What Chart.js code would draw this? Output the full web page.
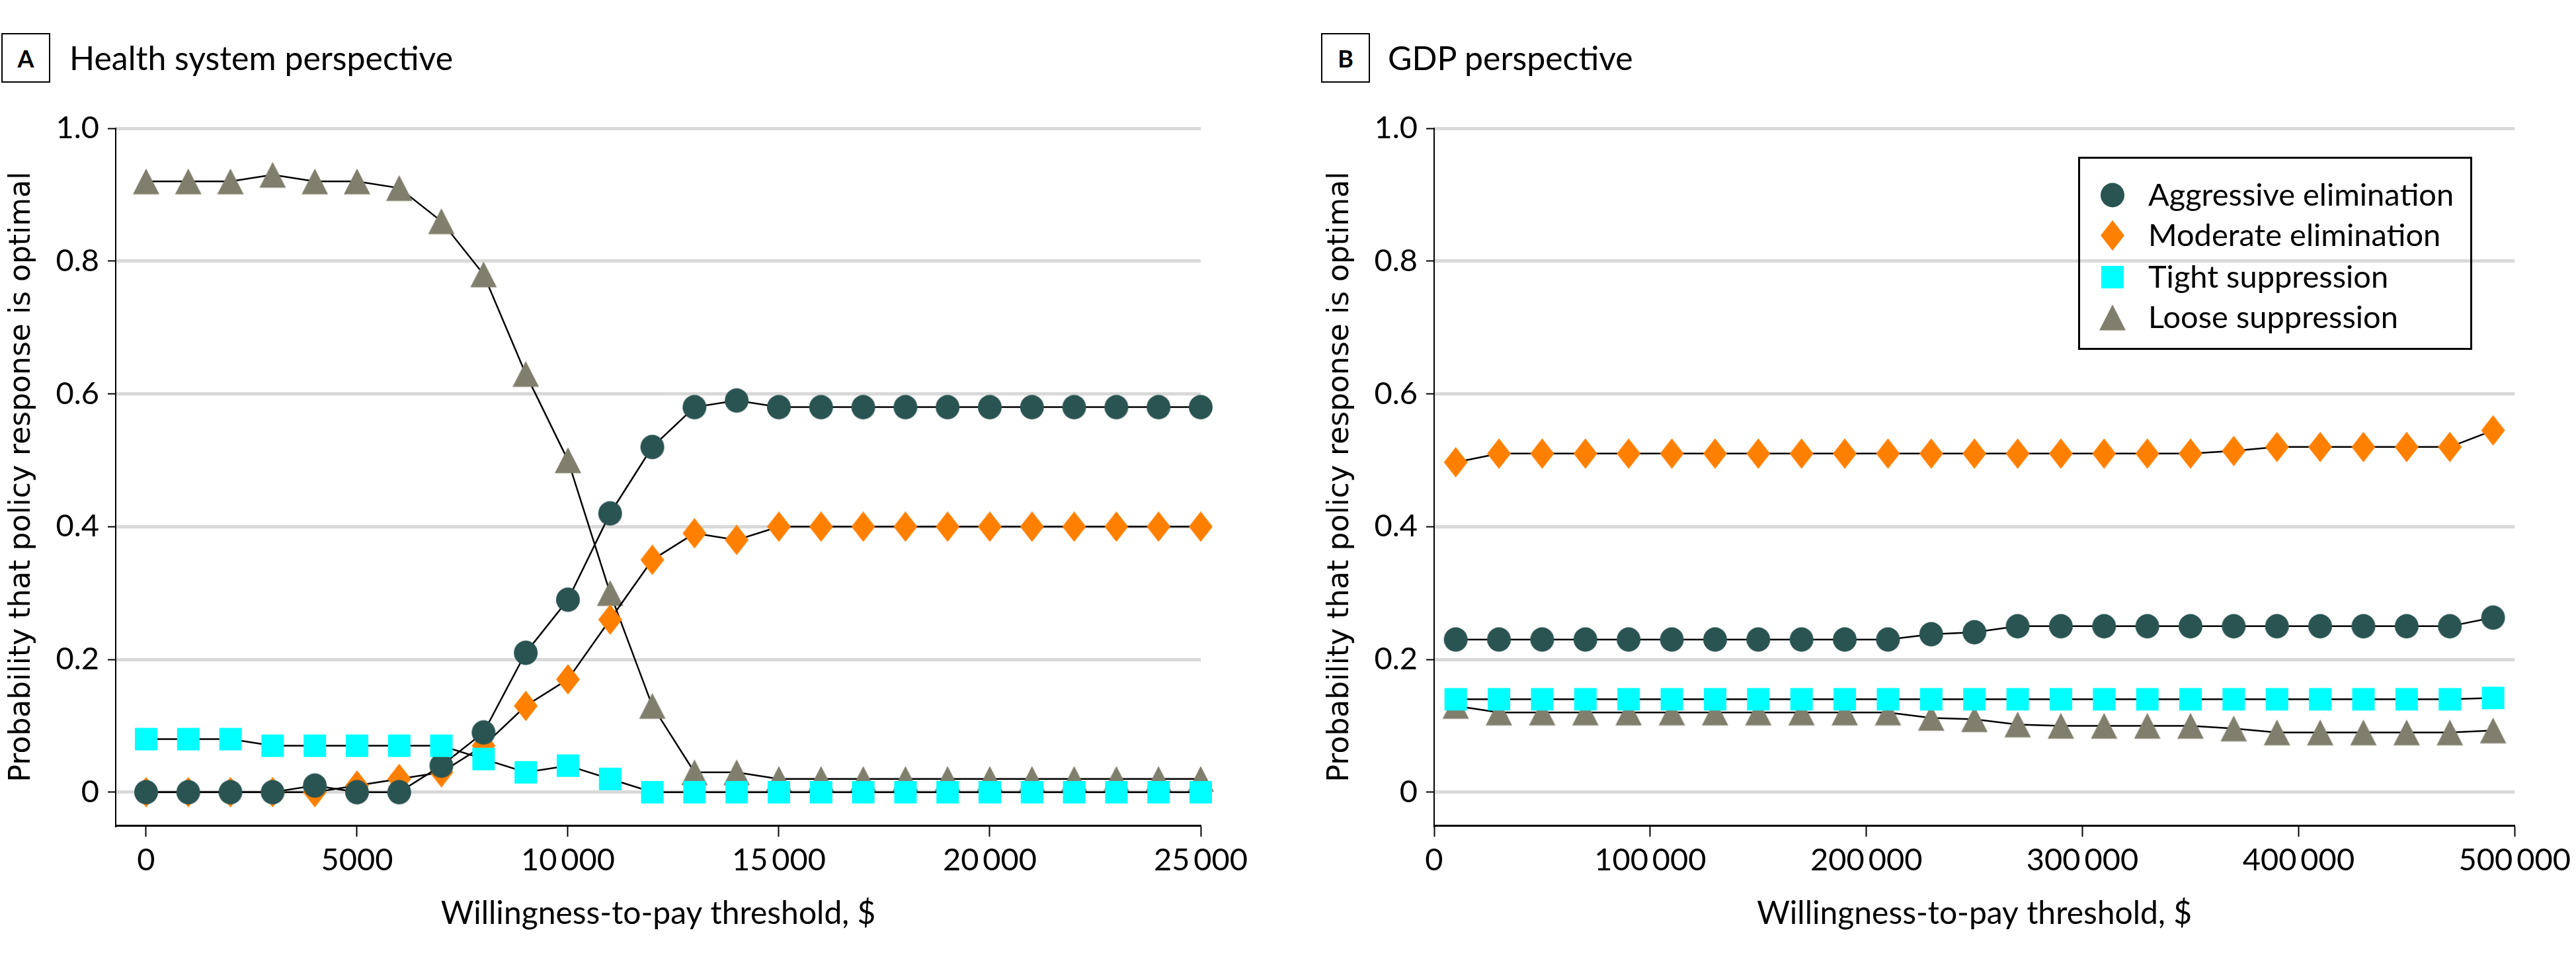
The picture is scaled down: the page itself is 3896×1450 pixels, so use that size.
<!DOCTYPE html>
<html>
<head>
<meta charset="utf-8">
<script src="https://cdn.jsdelivr.net/npm/chart.js@4.4.1/dist/chart.umd.min.js"></script>
<style>
  body { margin: 0; background: #fff; width: 3896px; height: 1450px; position: relative; overflow: hidden; font-family: Lato, sans-serif; }
  canvas.chart { position: absolute; top: 0; }
  .tag { position: absolute; top: 50px; width: 70px; height: 71px; border: 2px solid #000; display: flex; align-items: center; justify-content: center; font: bold 36px Lato, sans-serif; }
  .title { position: absolute; top: 62px; font-size: 50px; line-height: 50px; white-space: nowrap; }
  .legend { position: absolute; left: 3143px; top: 237px; width: 590px; height: 286px; border: 3px solid #000; }
  .leg-text { position: absolute; font-size: 47px; line-height: 47px; white-space: nowrap; }
  .leg-mark { position: absolute; }
</style>
</head>
<body>
<div class="tag" style="left:2px">A</div>
<div class="title" style="left:105px">Health system perspective</div>
<div class="tag" style="left:1998px">B</div>
<div class="title" style="left:2099px">GDP perspective</div>

<canvas id="chartA" class="chart" width="1948" height="1450" style="left:0px"></canvas>
<canvas id="chartB" class="chart" width="1902" height="1450" style="left:1994px"></canvas>
<div class="legend"></div>

<script>
// panel A: health system perspective
const wtpA = [0, 1000, 2000, 3000, 4000, 5000, 6000, 7000, 8000, 9000, 10000, 11000, 12000,
              13000, 14000, 15000, 16000, 17000, 18000, 19000, 20000, 21000, 22000, 23000, 24000, 25000];
const aggressiveA = [0, 0, 0, 0, 0.01, 0, 0, 0.04, 0.09, 0.21, 0.29, 0.42, 0.52,
                     0.58, 0.59, 0.58, 0.58, 0.58, 0.58, 0.58, 0.58, 0.58, 0.58, 0.58, 0.58, 0.58];
const moderateA = [0, 0, 0, 0, 0, 0.01, 0.02, 0.03, 0.07, 0.13, 0.17, 0.26, 0.35,
                   0.39, 0.38, 0.40, 0.40, 0.40, 0.40, 0.40, 0.40, 0.40, 0.40, 0.40, 0.40, 0.40];
const tightA = [0.08, 0.08, 0.08, 0.07, 0.07, 0.07, 0.07, 0.07, 0.05, 0.03, 0.04, 0.02, 0,
                0, 0, 0, 0, 0, 0, 0, 0, 0, 0, 0, 0, 0];
const looseA = [0.92, 0.92, 0.92, 0.93, 0.92, 0.92, 0.91, 0.86, 0.78, 0.63, 0.50, 0.30, 0.13,
                0.03, 0.03, 0.02, 0.02, 0.02, 0.02, 0.02, 0.02, 0.02, 0.02, 0.02, 0.02, 0.02];
const xTicksA = [0, 5000, 10000, 15000, 20000, 25000];

// panel B: GDP perspective
const wtpB = [10000, 30000, 50000, 70000, 90000, 110000, 130000, 150000, 170000, 190000, 210000, 230000, 250000,
              270000, 290000, 310000, 330000, 350000, 370000, 390000, 410000, 430000, 450000, 470000, 490000];
const aggressiveB = [0.23, 0.23, 0.23, 0.23, 0.23, 0.23, 0.23, 0.23, 0.23, 0.23, 0.23, 0.238, 0.241,
                     0.25, 0.25, 0.25, 0.25, 0.25, 0.25, 0.25, 0.25, 0.25, 0.25, 0.25, 0.263];
const moderateB = [0.497, 0.51, 0.51, 0.51, 0.51, 0.51, 0.51, 0.51, 0.51, 0.51, 0.51, 0.51, 0.51,
                   0.51, 0.51, 0.51, 0.51, 0.51, 0.514, 0.52, 0.52, 0.52, 0.52, 0.52, 0.545];
const tightB = [0.14, 0.14, 0.14, 0.14, 0.14, 0.14, 0.14, 0.14, 0.14, 0.14, 0.14, 0.14, 0.14,
                0.14, 0.14, 0.14, 0.14, 0.14, 0.14, 0.14, 0.14, 0.14, 0.14, 0.14, 0.142];
const looseB = [0.13, 0.12, 0.12, 0.12, 0.12, 0.12, 0.12, 0.12, 0.12, 0.12, 0.12, 0.112, 0.11,
                0.102, 0.10, 0.10, 0.10, 0.10, 0.096, 0.09, 0.09, 0.09, 0.09, 0.09, 0.093];
const xTicksB = [0, 100000, 200000, 300000, 400000, 500000];

const yTicks = [0, 0.2, 0.4, 0.6, 0.8, 1.0];
const seriesNames = ['Aggressive elimination', 'Moderate elimination', 'Tight suppression', 'Loose suppression'];
const seriesColors = ['#2a5452', '#ff8000', '#00ffff', '#807f6d'];

function makeMarker(kind, color) {
    const c = document.createElement('canvas');
    c.width = 46;
    c.height = 46;
    const ctx = c.getContext('2d');
    ctx.fillStyle = color;
    ctx.beginPath();
    if (kind === 'circle') {
        ctx.ellipse(23, 23, 18, 18.5, 0, 0, Math.PI * 2);
    } else if (kind === 'diamond') {
        ctx.moveTo(23, 0);
        ctx.lineTo(41, 23);
        ctx.lineTo(23, 46);
        ctx.lineTo(5, 23);
    } else if (kind === 'square') {
        ctx.rect(6, 6, 34, 34);
    } else {
        ctx.moveTo(23, 3.5);
        ctx.lineTo(43, 42.5);
        ctx.lineTo(3, 42.5);
    }
    ctx.closePath();
    ctx.fill();
    return c;
}

const markers = [
    makeMarker('circle', seriesColors[0]),
    makeMarker('diamond', seriesColors[1]),
    makeMarker('square', seriesColors[2]),
    makeMarker('triangle', seriesColors[3])
];
// tight on top, then aggressive, moderate, loose at the bottom
const drawOrder = [1, 2, 0, 3];

function fmt(v) {
    const s = String(v);
    if (v >= 10000) return s.slice(0, s.length - 3) + '\u2009' + s.slice(-3);
    return s;
}

function buildDatasets(xs, lists) {
    return lists.map((vals, i) => ({
        label: seriesNames[i],
        data: xs.map((x, j) => ({ x: x, y: vals[j] })),
        borderColor: '#000',
        borderWidth: 2.5,
        pointStyle: markers[i],
        pointRadius: 20,
        pointHoverRadius: 20,
        tension: 0,
        clip: false,
        order: drawOrder[i]
    }));
}

function buildOptions(xMin, xMax, xTicks, padLeft, padRight) {
    const tickFont = { family: 'Lato', size: 47 };
    return {
        responsive: false,
        animation: false,
        events: [],
        layout: { padding: { top: 194, right: padRight, left: padLeft, bottom: 0 } },
        plugins: { legend: { display: false }, tooltip: { enabled: false } },
        scales: {
            x: {
                type: 'linear',
                min: xMin,
                max: xMax,
                afterBuildTicks: s => { s.ticks = xTicks.map(v => ({ value: v })); },
                afterFit: s => { s.height = 202; },
                grid: { drawOnChartArea: false, tickLength: 17, tickColor: '#000', tickWidth: 2 },
                border: { color: '#000', width: 3 },
                ticks: { font: tickFont, color: '#000', padding: 8, maxRotation: 0, autoSkip: false, callback: v => fmt(v) },
                title: {
                    display: true,
                    text: 'Willingness-to-pay threshold, $',
                    font: { family: 'Lato', size: 48 },
                    color: '#000',
                    padding: { top: 0, bottom: 40 }
                }
            },
            y: {
                min: -0.05,
                max: 1,
                afterBuildTicks: s => { s.ticks = yTicks.map(v => ({ value: v })); },
                afterFit: s => { s.width = 175; },
                grid: { color: '#d9d9d9', lineWidth: 5, tickLength: 12, tickColor: '#000', tickWidth: 2 },
                border: { color: '#000', width: 2 },
                ticks: { font: tickFont, color: '#000', padding: 13, callback: v => (v === 0 ? '0' : v.toFixed(1)) },
                title: {
                    display: true,
                    text: 'Probability that policy response is optimal',
                    font: { family: 'DejaVu Sans', size: 44 },
                    color: '#000',
                    padding: { top: 7, bottom: 0 }
                }
            }
        }
    };
}

new Chart(document.getElementById('chartA'), {
    type: 'line',
    data: { datasets: buildDatasets(wtpA, [aggressiveA, moderateA, tightA, looseA]) },
    options: buildOptions(-720, 25000, xTicksA, 0, 132)
});

new Chart(document.getElementById('chartB'), {
    type: 'line',
    data: { datasets: buildDatasets(wtpB, [aggressiveB, moderateB, tightB, looseB]) },
    options: buildOptions(0, 500000, xTicksB, 0, 88)
});

// legend inside panel B
const legendRows = [295, 356, 419, 480];
seriesNames.forEach((name, i) => {
    const m = makeMarker(['circle', 'diamond', 'square', 'triangle'][i], seriesColors[i]);
    m.className = 'leg-mark';
    m.style.left = (3195 - 23) + 'px';
    m.style.top = (legendRows[i] - 23) + 'px';
    document.body.appendChild(m);

    const t = document.createElement('div');
    t.className = 'leg-text';
    t.textContent = name;
    t.style.left = '3249px';
    t.style.top = (legendRows[i] + 17 - 42) + 'px';
    document.body.appendChild(t);
});
</script>
</body>
</html>
